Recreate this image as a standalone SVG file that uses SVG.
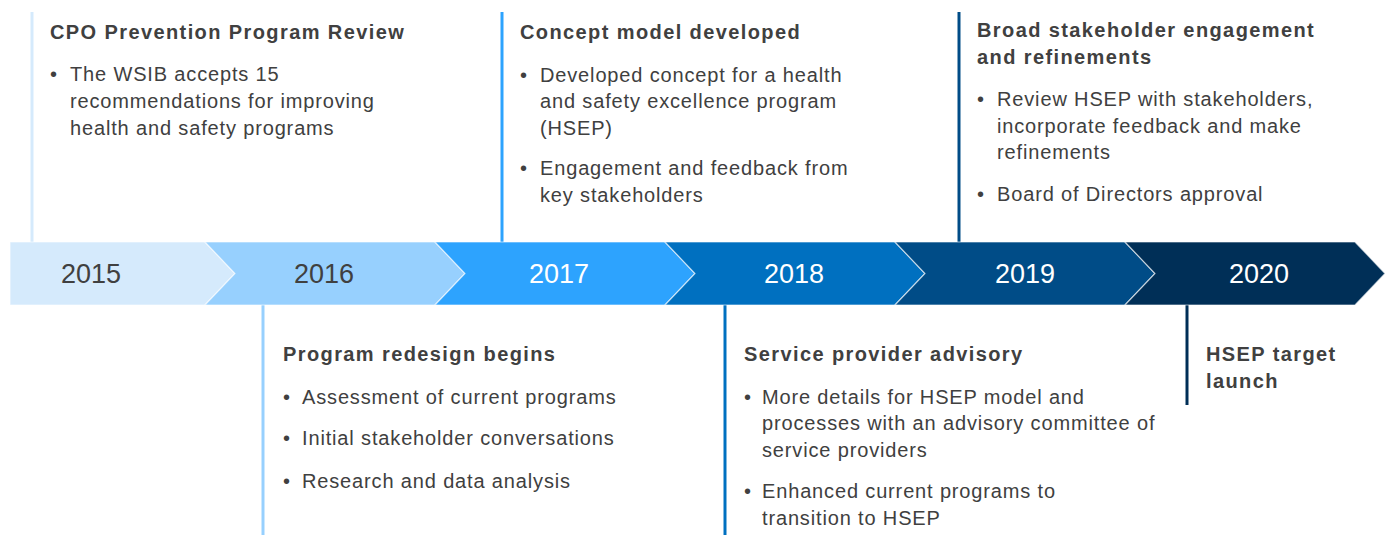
<svg xmlns="http://www.w3.org/2000/svg" width="1389" height="535" viewBox="0 0 1389 535">
  <style>
    .yr { font-family: "Liberation Sans", Arial, sans-serif; font-size: 27px; text-anchor: middle; }
    .dark { fill: #404040; }
    .light { fill: #ffffff; }
    .chev { stroke: #ffffff; stroke-opacity: 0.6; stroke-width: 1.2; }
    .ttl { font-family: "Liberation Sans", Arial, sans-serif; font-size: 20px; font-weight: bold; fill: #404040; letter-spacing: 1.4px; }
    .txt { font-family: "Liberation Sans", Arial, sans-serif; font-size: 20px; fill: #404040; letter-spacing: 0.85px; }
    .link { fill: none; stroke-width: 3; }
  </style>

  <!-- timeline connectors: vertical leader lines from each year to its milestone -->
  <g id="connectors">
    <line class="link" x1="32" y1="12" x2="32" y2="242" stroke="#D5EAFC"/>
    <line class="link" x1="263" y1="305" x2="263" y2="535" stroke="#97D0FE"/>
    <line class="link" x1="502" y1="12" x2="502" y2="242" stroke="#2DA3FE"/>
    <line class="link" x1="725" y1="305" x2="725" y2="535" stroke="#0070C0"/>
    <line class="link" x1="959" y1="12" x2="959" y2="242" stroke="#004C87"/>
    <line class="link" x1="1187" y1="305" x2="1187" y2="405" stroke="#002F57"/>
  </g>

  <!-- year band -->
  <g id="year-2015">
    <polygon class="chev" points="10,242 205,242 235,273.5 205,305 10,305" fill="#D5EAFC"/>
    <text class="yr dark" x="91" y="283">2015</text>
  </g>
  <g id="year-2016">
    <polygon class="chev" points="205,242 435,242 465,273.5 435,305 205,305 235,273.5" fill="#97D0FE"/>
    <text class="yr dark" x="324" y="283">2016</text>
  </g>
  <g id="year-2017">
    <polygon class="chev" points="435,242 665,242 695,273.5 665,305 435,305 465,273.5" fill="#2DA3FE"/>
    <text class="yr light" x="559" y="283">2017</text>
  </g>
  <g id="year-2018">
    <polygon class="chev" points="665,242 895,242 925,273.5 895,305 665,305 695,273.5" fill="#0070C0"/>
    <text class="yr light" x="794" y="283">2018</text>
  </g>
  <g id="year-2019">
    <polygon class="chev" points="895,242 1125,242 1155,273.5 1125,305 895,305 925,273.5" fill="#004C87"/>
    <text class="yr light" x="1025" y="283">2019</text>
  </g>
  <g id="year-2020">
    <polygon class="chev" points="1125,242 1355,242 1385,273.5 1355,305 1125,305 1155,273.5" fill="#002F57"/>
    <text class="yr light" x="1259" y="283">2020</text>
  </g>

  <!-- milestones above the band -->
  <g id="milestone-2015">
    <text class="ttl" x="50" y="39">CPO Prevention Program Review</text>
    <text class="txt" x="50" y="81">•</text>
    <text class="txt" x="70" y="81">The WSIB accepts 15</text>
    <text class="txt" x="70" y="108">recommendations for improving</text>
    <text class="txt" x="70" y="135">health and safety programs</text>
  </g>
  <g id="milestone-2017">
    <text class="ttl" x="520" y="39">Concept model developed</text>
    <text class="txt" x="520" y="82">•</text>
    <text class="txt" x="540" y="82">Developed concept for a health</text>
    <text class="txt" x="540" y="108">and safety excellence program</text>
    <text class="txt" x="540" y="135">(HSEP)</text>
    <text class="txt" x="520" y="175">•</text>
    <text class="txt" x="540" y="175">Engagement and feedback from</text>
    <text class="txt" x="540" y="202">key stakeholders</text>
  </g>
  <g id="milestone-2019">
    <text class="ttl" x="977" y="37">Broad stakeholder engagement</text>
    <text class="ttl" x="977" y="64">and refinements</text>
    <text class="txt" x="977" y="106">•</text>
    <text class="txt" x="997" y="106">Review HSEP with stakeholders,</text>
    <text class="txt" x="997" y="133">incorporate feedback and make</text>
    <text class="txt" x="997" y="159">refinements</text>
    <text class="txt" x="977" y="201">•</text>
    <text class="txt" x="997" y="201">Board of Directors approval</text>
  </g>

  <!-- milestones below the band -->
  <g id="milestone-2016">
    <text class="ttl" x="283" y="361">Program redesign begins</text>
    <text class="txt" x="283" y="404">•</text>
    <text class="txt" x="302" y="404">Assessment of current programs</text>
    <text class="txt" x="283" y="445">•</text>
    <text class="txt" x="302" y="445">Initial stakeholder conversations</text>
    <text class="txt" x="283" y="488">•</text>
    <text class="txt" x="302" y="488">Research and data analysis</text>
  </g>
  <g id="milestone-2018">
    <text class="ttl" x="744" y="361">Service provider advisory</text>
    <text class="txt" x="744" y="404">•</text>
    <text class="txt" x="762" y="404">More details for HSEP model and</text>
    <text class="txt" x="762" y="430">processes with an advisory committee of</text>
    <text class="txt" x="762" y="457">service providers</text>
    <text class="txt" x="744" y="498">•</text>
    <text class="txt" x="762" y="498">Enhanced current programs to</text>
    <text class="txt" x="762" y="525">transition to HSEP</text>
  </g>
  <g id="milestone-2020">
    <text class="ttl" x="1206" y="361">HSEP target</text>
    <text class="ttl" x="1206" y="388">launch</text>
  </g>
</svg>
